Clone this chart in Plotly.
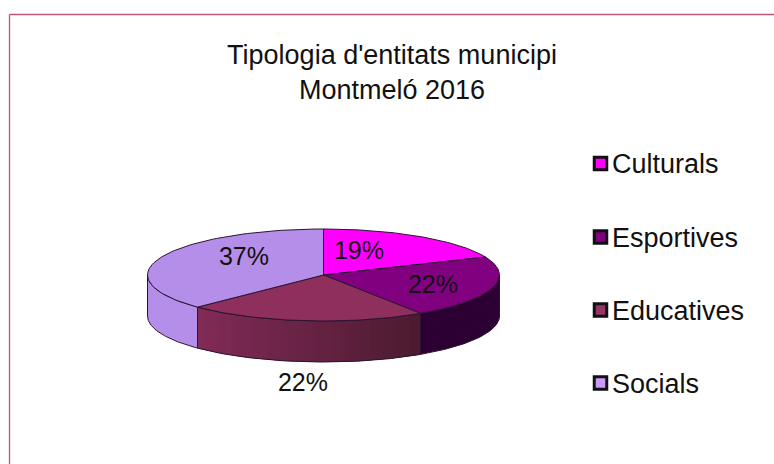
import numpy as np
import plotly.graph_objects as go

categories = ["Culturals", "Esportives", "Educatives", "Socials"]
values = [18.6, 22.1, 22.0, 37.3]

cap_colors = ["#ff00ff", "#800080", "#8f2f5e", "#b48ee8"]
legend_colors = ["#ff00ff", "#800080", "#993366", "#cc99ff"]
wall_left = {1: "#2d0033", 2: "#822b58", 3: "#b48ee8"}
wall_right = {1: "#2d0033", 2: "#4c1b30", 3: "#b48ee8"}

FONT = "Liberation Sans, Arial, sans-serif"
W, H = 774, 464
CX, CY, RX, RY, DEPTH = 323.5, 275, 176, 46, 41
OUT = "#2a1530"


def ex(t):
    return CX + RX * np.sin(np.radians(t))


def ey(t, drop=0):
    return CY - RY * np.cos(np.radians(t)) + drop


def hex2rgb(c):
    return [int(c[i:i + 2], 16) for i in (1, 3, 5)]


def mix(a, b, f):
    ra, rb = hex2rgb(a), hex2rgb(b)
    return "rgb(" + ",".join(str(round(x + (y - x) * f)) for x, y in zip(ra, rb)) + ")"


fig = go.Figure()
edges = np.cumsum([0] + values) / sum(values) * 360

# side wall (front half of the ellipse only)
for i in range(1, 4):
    a = max(edges[i], 90)
    b = min(edges[i + 1], 270)
    xa, xb = ex(a), ex(b)
    t = np.linspace(a, b, 60)
    xs = np.concatenate([ex(t), ex(t[::-1]), [ex(a)]])
    ys = np.concatenate([ey(t), ey(t[::-1], DEPTH), [ey(a)]])
    fig.add_trace(go.Scatter(x=xs, y=ys, mode="lines", fill="toself",
                             fillcolor=mix(wall_left[i], wall_right[i], 0.5),
                             line=dict(width=0), hoverinfo="skip", showlegend=False))
    if wall_left[i] != wall_right[i]:
        n = 40
        ts = np.linspace(a, b, n + 1)
        for k in range(n):
            s = np.linspace(ts[k], ts[k + 1] + (0.6 if k < n - 1 else 0), 4)
            sx = np.concatenate([ex(s), ex(s[::-1])])
            sy = np.concatenate([ey(s), ey(s[::-1], DEPTH)])
            f = (ex(ts[k]) - xb) / (xa - xb)
            fig.add_trace(go.Scatter(x=sx, y=sy, mode="lines", fill="toself",
                                     fillcolor=mix(wall_left[i], wall_right[i], f),
                                     line=dict(width=0), hoverinfo="skip", showlegend=False))
    fig.add_trace(go.Scatter(x=xs, y=ys, mode="lines", line=dict(color=OUT, width=1),
                             hoverinfo="skip", showlegend=False))

# top slices
for i, name in enumerate(categories):
    t = np.linspace(edges[i], edges[i + 1], 80)
    xs = np.concatenate([[CX], ex(t), [CX]])
    ys = np.concatenate([[CY], ey(t), [CY]])
    fig.add_trace(go.Scatter(x=xs, y=ys, mode="lines", fill="toself", name=name,
                             fillcolor=cap_colors[i], line=dict(color=OUT, width=1),
                             hoverinfo="skip", showlegend=False))

# percentage labels
label_x = [359, 433, 303, 244]
label_y = [253, 287, 384.5, 259]
fig.add_trace(go.Scatter(x=label_x, y=label_y, mode="text",
                         text=[f"{round(v)}%" for v in values],
                         textfont=dict(family=FONT, size=25, color="#111111"),
                         hoverinfo="skip", showlegend=False))

# legend
swatch_x = [600.5] * 4
swatch_y = [163.5, 237, 310, 383]
legend_text_x = [612] * 4
legend_text_y = [166, 240, 313, 386]
fig.add_trace(go.Scatter(x=swatch_x, y=swatch_y, mode="markers",
                         marker=dict(symbol="square", size=12.5, color=legend_colors,
                                     line=dict(color="#111111", width=3)),
                         hoverinfo="skip", showlegend=False))
fig.add_trace(go.Scatter(x=legend_text_x, y=legend_text_y, mode="text",
                         text=categories, textposition="middle right",
                         textfont=dict(family=FONT, size=27, color="#111111"),
                         hoverinfo="skip", showlegend=False))

border = "#bd567a"
fig.update_layout(
    width=W, height=H, autosize=False,
    margin=dict(l=0, r=0, t=0, b=0),
    paper_bgcolor="white", plot_bgcolor="white",
    showlegend=False,
    title=dict(text="Tipologia d'entitats municipi<br>Montmeló 2016",
               x=392 / W, xanchor="center", y=1 - 64 / H, yanchor="top",
               font=dict(family=FONT, size=27, color="#111111")),
    xaxis=dict(range=[0, W], visible=False, fixedrange=True),
    yaxis=dict(range=[H, 0], visible=False, fixedrange=True),
    shapes=[
        dict(type="line", x0=9.5, x1=W, y0=14.5, y1=14.5, line=dict(color=border, width=1.3)),
        dict(type="line", x0=9.5, x1=9.5, y0=14.5, y1=H, line=dict(color=border, width=1.3)),
    ],
)
fig.write_html("out.html", config=dict(displayModeBar=False),
               post_script="document.body.style.margin='0';document.body.style.overflow='hidden';")
